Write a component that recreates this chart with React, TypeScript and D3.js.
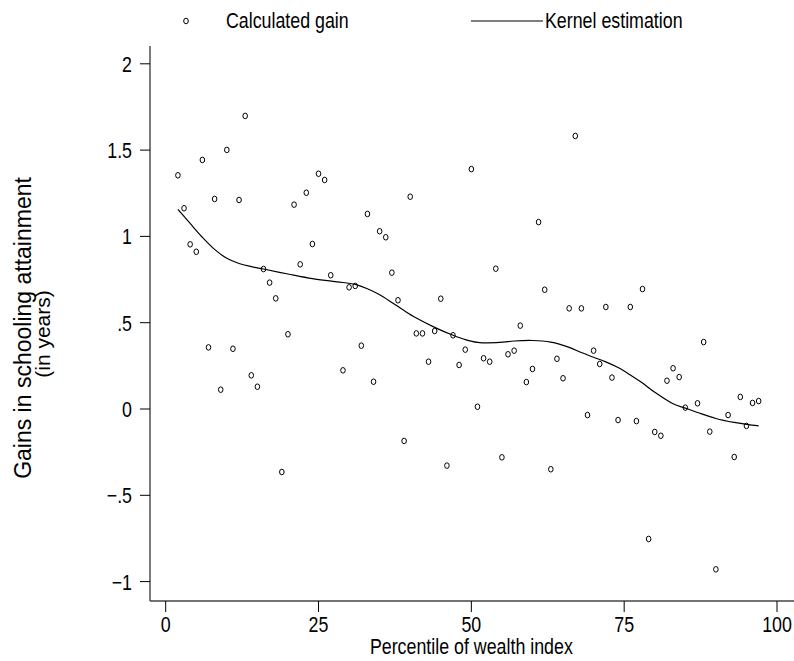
import React from 'react';
import * as d3 from 'd3';

// percentile of wealth index for each observed point
const pctile = [2, 3, 4, 5, 6, 7, 8, 9, 10, 11, 12, 13, 14, 15, 16, 17, 18, 19, 20, 21, 22, 23, 24, 25, 26, 27,
  29, 30, 31, 32, 33, 34, 35, 36, 37, 38, 39, 40, 41, 42, 43, 44, 45, 46, 47, 48, 49, 50, 51, 52, 53, 54, 55,
  56, 57, 58, 59, 60, 61, 62, 63, 64, 65, 66, 67, 68, 69, 70, 71, 72, 73, 74, 76, 77, 78, 79, 80, 81, 82, 83,
  84, 85, 87, 88, 89, 90, 92, 93, 94, 95, 96, 97];

// calculated gain (years)
const gain = [1.354, 1.163, 0.954, 0.911, 1.443, 0.357, 1.217, 0.112, 1.501, 0.349, 1.211, 1.698, 0.195, 0.129,
  0.811, 0.732, 0.641, -0.365, 0.433, 1.184, 0.838, 1.253, 0.956, 1.363, 1.327, 0.775,
  0.224, 0.705, 0.713, 0.367, 1.13, 0.158, 1.03, 0.995, 0.79, 0.63, -0.185, 1.23, 0.438, 0.438, 0.274, 0.452,
  0.639, -0.328, 0.427, 0.255, 0.344, 1.39, 0.013, 0.294, 0.274, 0.813, -0.28,
  0.317, 0.338, 0.483, 0.156, 0.232, 1.083, 0.691, -0.349, 0.291, 0.178, 0.583, 1.582, 0.583, -0.035, 0.338,
  0.261, 0.591, 0.182, -0.064, 0.591, -0.07, 0.695, -0.753, -0.133, -0.155, 0.164, 0.236,
  0.185, 0.008, 0.033, 0.388, -0.131, -0.929, -0.035, -0.278, 0.07, -0.098, 0.035, 0.046];

// kernel estimation curve
const kernelX = [2, 4, 6, 8, 10, 12, 14, 16, 20, 24, 28, 31, 33, 35, 37, 39, 41, 44, 47, 49, 51, 54, 57, 60,
  63, 66, 68, 70, 72, 74, 76, 78, 80, 83, 85, 87, 90, 93, 95, 97];
const kernelY = [1.157, 1.075, 0.995, 0.925, 0.873, 0.843, 0.825, 0.811, 0.782, 0.755, 0.737, 0.722, 0.697,
  0.662, 0.617, 0.57, 0.527, 0.473, 0.427, 0.402, 0.386, 0.384, 0.394, 0.397, 0.387, 0.357, 0.327, 0.3,
  0.273, 0.24, 0.197, 0.15, 0.097, 0.03, 0.005, -0.02, -0.055, -0.078, -0.089, -0.098];

const xTicks = [0, 25, 50, 75, 100];
const yTicks = [-1, -0.5, 0, 0.5, 1, 1.5, 2];
const yTickLabels = ['\u22121', '\u2212.5', '0', '.5', '1', '1.5', '2'];

const W = 794, H = 661;
const FONT = "'Liberation Sans', Arial, Helvetica, sans-serif";
const SQ = 0.81; // horizontal squeeze, the picture's text is condensed

function Label({ x, y, anchor = 'start', size = 22, children }: any) {
  return (
    <text transform={`translate(${x},${y}) scale(${SQ},1)`} textAnchor={anchor} fontSize={size}>{children}</text>
  );
}

export default function App() {
  const x = d3.scaleLinear().domain([0, 100]).range([165.7, 777]);
  const y = d3.scaleLinear().domain([-1, 2]).range([581.6, 63.8]);

  const line = d3.line<number>()
    .x((d, i) => x(kernelX[i]))
    .y(d => y(d))
    .curve(d3.curveCatmullRom.alpha(0.5));

  const axisColor = '#444';

  return (
    <div style={{ position: 'absolute', left: 0, top: 0 }}>
      <svg width={W} height={H} style={{ display: 'block', background: '#fff' }} fontFamily={FONT}>
        {/* legend */}
        <ellipse cx={186} cy={21} rx={2.3} ry={2.8} fill="none" stroke="#000" strokeWidth={1} />
        <Label x={226} y={28}>Calculated gain</Label>
        <line x1={471} x2={543} y1={21} y2={21} stroke="#000" strokeWidth={1.2} />
        <Label x={545} y={28}>Kernel estimation</Label>

        {/* y axis */}
        <line x1={150} x2={150} y1={46} y2={601} stroke={axisColor} strokeWidth={1.4} />
        {yTicks.map((t, i) => (
          <g key={t}>
            <line x1={140} x2={150} y1={y(t)} y2={y(t)} stroke="#000" strokeWidth={1} />
            <Label x={132} y={y(t) + 8} anchor="end">{yTickLabels[i]}</Label>
          </g>
        ))}

        {/* x axis */}
        <line x1={150} x2={794} y1={601} y2={601} stroke={axisColor} strokeWidth={1.4} />
        {xTicks.map(t => (
          <g key={t}>
            <line x1={x(t)} x2={x(t)} y1={601} y2={612} stroke="#000" strokeWidth={1} />
            <Label x={x(t)} y={632} anchor="middle">{t}</Label>
          </g>
        ))}
        <Label x={x(50)} y={654} anchor="middle">Percentile of wealth index</Label>

        {/* y title */}
        <text transform="translate(31,328) rotate(-90)" textAnchor="middle" fontSize={23}>Gains in schooling attainment</text>
        <text transform="translate(50,334) rotate(-90)" textAnchor="middle" fontSize={21}>(in years)</text>

        {/* points */}
        {pctile.map((p, i) => (
          <ellipse key={p} cx={x(p)} cy={y(gain[i])} rx={2.3} ry={2.8} fill="none" stroke="#000" strokeWidth={1} />
        ))}

        {/* kernel line */}
        <path d={line(kernelY) || ''} fill="none" stroke="#000" strokeWidth={1.2} />
      </svg>
    </div>
  );
}
